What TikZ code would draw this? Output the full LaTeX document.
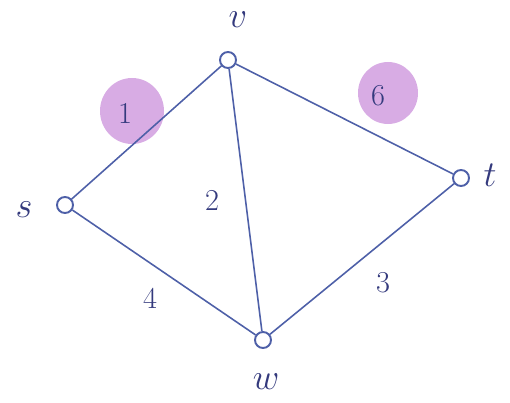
\documentclass[tikz,border=0pt]{standalone}
\usepackage{tikz}
\usetikzlibrary{arrows.meta}
\definecolor{penblue}{RGB}{78,96,168}
\definecolor{inkblue}{RGB}{52,58,125}
\definecolor{marker}{RGB}{216,172,228}
\begin{document}
\begin{tikzpicture}[x=0.02cm,y=-0.02cm]
\tikzstyle{vert}=[circle,draw=penblue,line width=1.1pt,minimum size=0.32cm,inner sep=0pt]
\tikzstyle{lbl}=[text=inkblue,font=\huge,inner sep=1pt]
\tikzstyle{wt}=[text=inkblue,font=\LARGE]
\tikzstyle{blob}=[fill=marker]
\useasboundingbox (0,0) rectangle (510,402);
% highlights
\fill[blob] (132,111) ellipse [x radius=32,y radius=33];
\fill[blob] (388,93) ellipse [x radius=30,y radius=31];
% vertices
\node[vert] (v) at (228,60) {};
\node[vert] (s) at (65,205) {};
\node[vert] (t) at (461,178) {};
\node[vert] (w) at (263,340) {};
\node[lbl] (vl) at (238,20) {$v$};
\node[lbl] (sl) at (24,210) {$s$};
\node[lbl] (tl) at (490,175) {$t$};
\node[lbl] (wl) at (266,382) {$w$};
% edges
\path[draw=penblue,line width=0.9pt] (s) edge (v) (v) edge (t) (v) edge (w)
 (s) edge (w) (w) edge (t);
% weights
\node[wt] (e1) at (125,113) {1};
\node[wt] (e6) at (378,96) {6};
\node[wt] (e2) at (212,200) {2};
\node[wt] (e4) at (150,298) {4};
\node[wt] (e3) at (383,283) {3};
\end{tikzpicture}
\end{document}
